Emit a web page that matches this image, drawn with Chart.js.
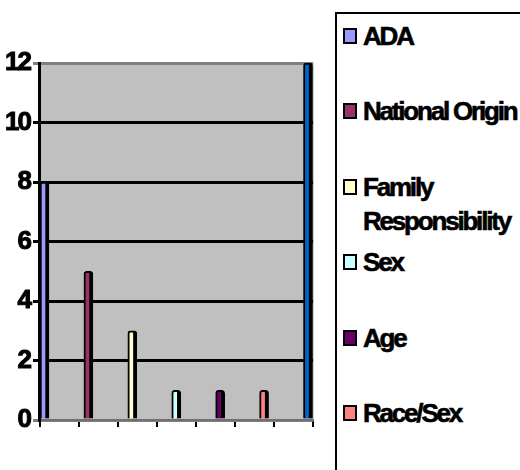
<!DOCTYPE html>
<html>
<head>
<meta charset="utf-8">
<script src="https://cdn.jsdelivr.net/npm/chart.js@4.4.1/dist/chart.umd.min.js"></script>
<style>
  html, body { margin: 0; padding: 0; background: #fff; overflow: hidden; }
  #wrap { position: relative; width: 520px; height: 470px; }
  #chart { position: absolute; left: 0; top: 0; }
  #legend {
    position: absolute; left: 335px; top: 12px; width: 200px; height: 480px;
    border: 2px solid #000; box-sizing: border-box; background: #fff;
    font: bold 26px "Liberation Sans", Arial, sans-serif; letter-spacing: -2.2px; color: #000;
    -webkit-text-stroke: 0.6px #000;
  }
  .item { position: absolute; left: 6px; width: 165px; line-height: 34px; padding-left: 20px; }
  .mark { position: absolute; left: 0; top: 9px; width: 10px; height: 12px; border: 2px solid #000; }
</style>
</head>
<body>
<div id="wrap">
  <canvas id="chart" width="520" height="470"></canvas>
  <div id="legend"></div>
</div>
<script>
// Complaint counts by basis
const categories = ['ADA', 'National Origin', 'Family Responsibility', 'Sex', 'Age', 'Race/Sex', ''];
const counts = [8, 5, 3, 1, 1, 1, 12];
const colors = ['#9999FF', '#993366', '#FFFFCC', '#CCFFFF', '#660066', '#FF8080', '#0066CC'];
const yTicks = [0, 2, 4, 6, 8, 10, 12];
const xTickMarks = [0, 1, 2, 3, 4, 5, 6, 7];

// Legend panel on the right
const legend = document.getElementById('legend');
categories.forEach((name, i) => {
  const it = document.createElement('div');
  it.className = 'item';
  it.style.top = (5 + i * 75.4) + 'px';
  const m = document.createElement('span');
  m.className = 'mark';
  m.style.background = colors[i];
  it.appendChild(m);
  it.appendChild(document.createTextNode(name));
  legend.appendChild(it);
});

// Gray back wall behind the columns, tight label spacing
const wall = {
  id: 'wall',
  beforeDraw(chart) {
    const { ctx, chartArea: a } = chart;
    ctx.letterSpacing = '-2px';
    ctx.save();
    ctx.fillStyle = '#C0C0C0';
    ctx.fillRect(a.left, a.top, a.right - a.left, a.bottom - a.top);
    ctx.strokeStyle = '#A0A0A0';
    ctx.lineWidth = 3;
    ctx.beginPath();
    ctx.moveTo(a.right - 1, a.top);
    ctx.lineTo(a.right - 1, a.bottom);
    ctx.stroke();
    ctx.restore();
  }
};

new Chart(document.getElementById('chart'), {
  type: 'bar',
  data: {
    datasets: [{
      data: counts.map((v, i) => ({ x: i, y: v })),
      backgroundColor: colors,
      borderColor: '#000',
      borderWidth: { left: 2, right: 4, top: 2, bottom: 0 },
      borderSkipped: false,
      borderRadius: { topLeft: 3, topRight: 3, bottomLeft: 0, bottomRight: 0 },
      barThickness: 9
    }]
  },
  options: {
    responsive: false,
    animation: false,
    layout: { padding: { top: 63, right: 207, left: 0, bottom: 0 } },
    plugins: { legend: { display: false }, tooltip: { enabled: false } },
    scales: {
      x: {
        type: 'linear', display: false, offset: false, min: -0.125, max: 6.114,
        grid: { offset: false }
      },
      xt: {
        type: 'linear', position: 'bottom', offset: false, min: -0.026, max: 7,
        afterBuildTicks(s) { s.ticks = xTickMarks.map(v => ({ value: v })); },
        ticks: { callback: () => '' },
        grid: { offset: false, drawOnChartArea: false, drawTicks: true, tickLength: 7, color: '#000', lineWidth: 2 },
        border: { display: true, color: '#707070', width: 2 },
        afterFit(s) { s.height = 50; }
      },
      y: {
        min: 0, max: 12,
        afterBuildTicks(s) { s.ticks = yTicks.map(v => ({ value: v })); },
        ticks: {
          padding: 3, color: '#000', textStrokeColor: '#000', textStrokeWidth: 1,
          font: { family: '"Liberation Sans", Arial, sans-serif', size: 26, weight: 'bold' }
        },
        grid: {
          tickLength: 6, lineWidth: 3,
          color: c => (c.tick && (c.tick.value === 0 || c.tick.value === 12)) ? '#808080' : '#000'
        },
        border: { display: true, color: '#000', width: 3 },
        afterFit(s) { s.width = 39; }
      }
    }
  },
  plugins: [wall]
});
</script>
</body>
</html>
